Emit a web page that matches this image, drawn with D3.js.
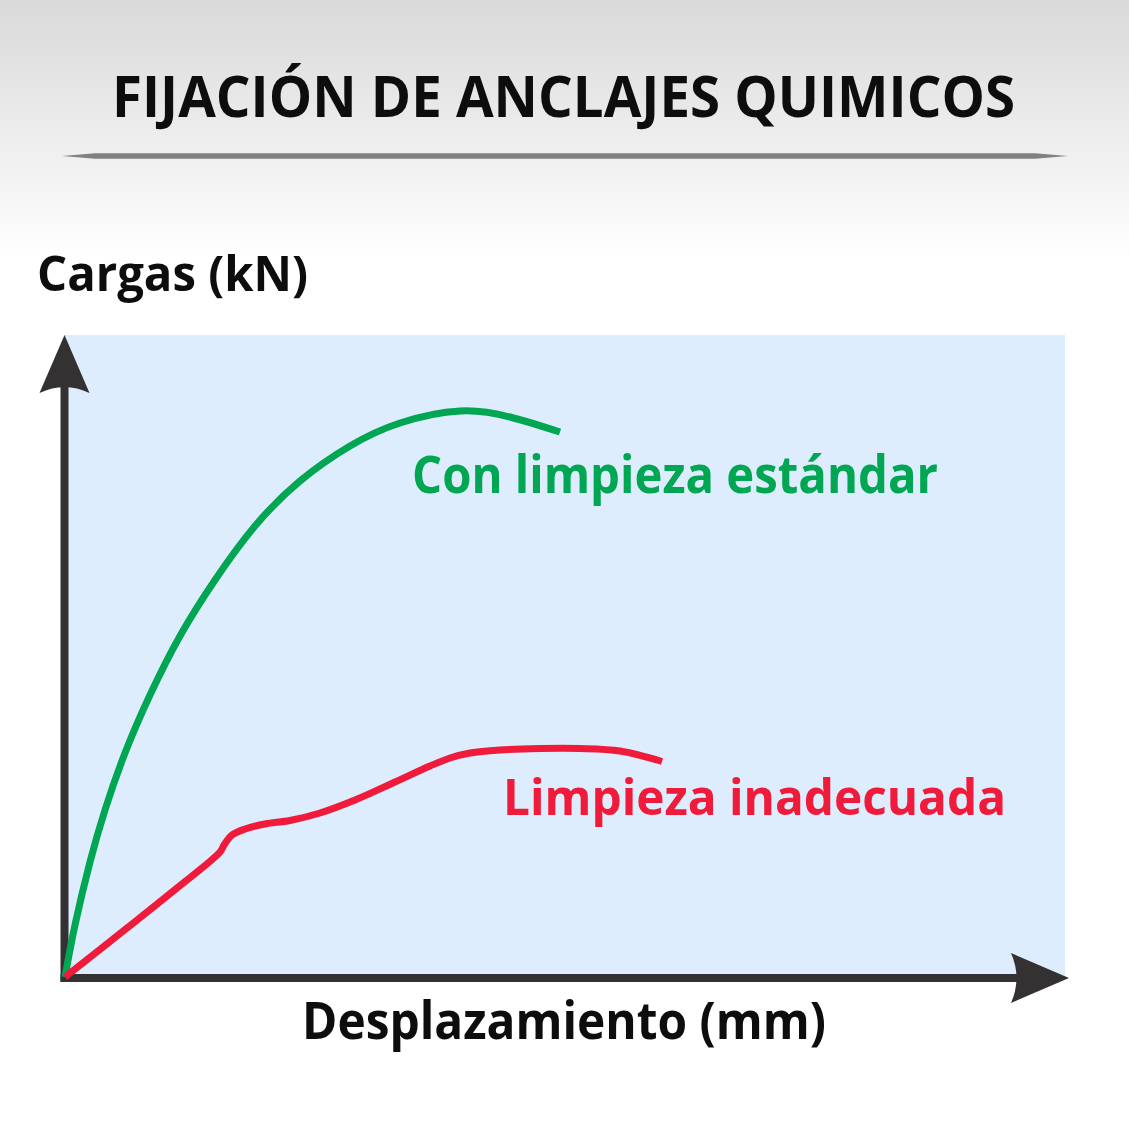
<!DOCTYPE html>
<html>
<head>
<meta charset="utf-8">
<style>
  html, body { margin: 0; padding: 0; background: #fff; }
  svg { display: block; }
  text { font-family: "Open Sans", "Noto Sans", sans-serif; font-weight: 700; }
</style>
</head>
<body>

<script src="https://d3js.org/d3.v7.min.js"></script>
<script>

const width = 1129;
const height = 1129;

// curve readings (displacement, load) in arbitrary chart units
const estandarX = [0, 1.0, 2.5, 4.0, 6.0, 8.5, 11.5, 15.0, 19.0, 23.5, 28.5, 33.5, 39.5, 44.5, 49.5];
const estandarY = [0, 5.2, 11.5, 16.7, 22.4, 28.2, 34.1, 39.7, 45.1, 49.6, 53.1, 55.4, 56.6, 56.0, 54.5];

const inadecX = [0, 6.2, 11.2, 15.5, 15.9, 16.7, 18.0, 20.0, 22.5, 25.5, 29.0, 33.0, 36.5, 38.5, 40.5, 43.5, 47.5, 51.5, 55.5, 59.7];
const inadecY = [0, 4.9, 8.9, 12.5, 13.2, 14.2, 14.8, 15.3, 15.65, 16.4, 17.7, 19.5, 21.1, 21.9, 22.4, 22.7, 22.85, 22.85, 22.6, 21.55];

const title = 'FIJACIÓN DE ANCLAJES QUIMICOS';
const yLabel = 'Cargas (kN)';
const xLabel = 'Desplazamiento (mm)';
const seriesNames = ['Con limpieza estándar', 'Limpieza inadecuada'];
const seriesColors = ['#00a651', '#f01a3b'];

const x = d3.scaleLinear().domain([0, 100]).range([65, 1065]);
const y = d3.scaleLinear().domain([0, 64]).range([977, 337]);

const svg = d3.select('body')
              .append('svg')
              .attr('width', width)
              .attr('height', height);

// grey fade behind the title
const grad = svg.append('defs')
                .append('linearGradient')
                .attr('id', 'bg')
                .attr('x1', 0).attr('y1', 0)
                .attr('x2', 0).attr('y2', 1);
grad.append('stop').attr('offset', '0%').attr('stop-color', '#d9d9d9');
grad.append('stop').attr('offset', '100%').attr('stop-color', '#ffffff');

svg.append('rect')
   .attr('width', width)
   .attr('height', 260)
   .attr('fill', 'url(#bg)');

svg.append('text')
   .attr('x', 112)
   .attr('y', 117)
   .attr('font-size', 58)
   .attr('fill', '#0d0d0d')
   .attr('textLength', 903)
   .attr('lengthAdjust', 'spacingAndGlyphs')
   .text(title);

// divider under title
svg.append('path')
   .attr('d', 'M62,156 L95,153.3 L1035,153.3 L1068,156 L1035,158.7 L95,158.7 Z')
   .attr('fill', '#818181');

// plot panel
svg.append('rect')
   .attr('x', x(0) - 1)
   .attr('y', y(64) - 2)
   .attr('width', x(100) - x(0) + 1)
   .attr('height', y(0) - y(64) + 2)
   .attr('fill', '#deedfd');

// axes with arrow heads
const axisColor = '#333132';
const ox = x(0) - 0.5;
const oy = y(0) + 1;

svg.append('line')
   .attr('x1', ox).attr('y1', oy + 4)
   .attr('x2', ox).attr('y2', 386)
   .attr('stroke', axisColor)
   .attr('stroke-width', 8);

svg.append('path')
   .attr('d', `M${ox},335 L${ox + 25},393 Q${ox},381 ${ox - 25},393 Z`)
   .attr('fill', axisColor);

svg.append('line')
   .attr('x1', ox - 4).attr('y1', oy)
   .attr('x2', 1018).attr('y2', oy)
   .attr('stroke', axisColor)
   .attr('stroke-width', 8);

svg.append('path')
   .attr('d', `M1069,${oy} L1011,${oy - 25} Q1022,${oy} 1011,${oy + 25} Z`)
   .attr('fill', axisColor);

svg.append('text')
   .attr('x', 37)
   .attr('y', 291)
   .attr('font-size', 49)
   .attr('fill', '#0d0d0d')
   .attr('textLength', 271)
   .attr('lengthAdjust', 'spacingAndGlyphs')
   .text(yLabel);

svg.append('text')
   .attr('x', 302)
   .attr('y', 1039)
   .attr('font-size', 52)
   .attr('fill', '#0d0d0d')
   .attr('textLength', 524)
   .attr('lengthAdjust', 'spacingAndGlyphs')
   .text(xLabel);

// curves: smooth spline for the clean anchor, catmull-rom keeps the kink on the other
const curves = [d3.curveNatural, d3.curveCatmullRom.alpha(0.5)];

const series = [
  d3.zip(estandarX, estandarY),
  d3.zip(inadecX, inadecY)
];

svg.selectAll('path.curve')
   .data(series)
   .enter()
   .append('path')
   .attr('class', 'curve')
   .attr('d', (d, i) => d3.line()
                          .x(p => x(p[0]))
                          .y(p => y(p[1]))
                          .curve(curves[i])(d))
   .attr('fill', 'none')
   .attr('stroke', (d, i) => seriesColors[i])
   .attr('stroke-width', 7)
   .attr('stroke-linejoin', 'round');

// curve labels
const labels = [
  {x: 34.7, y: 48.4, w: 526, size: 52},
  {x: 43.8, y: 16.2, w: 503, size: 51}
];

svg.selectAll('text.lbl')
   .data(labels)
   .enter()
   .append('text')
   .attr('class', 'lbl')
   .attr('x', d => x(d.x))
   .attr('y', d => y(d.y))
   .attr('font-size', d => d.size)
   .attr('fill', (d, i) => seriesColors[i])
   .attr('textLength', d => d.w)
   .attr('lengthAdjust', 'spacingAndGlyphs')
   .text((d, i) => seriesNames[i]);

</script>
</body>
</html>
